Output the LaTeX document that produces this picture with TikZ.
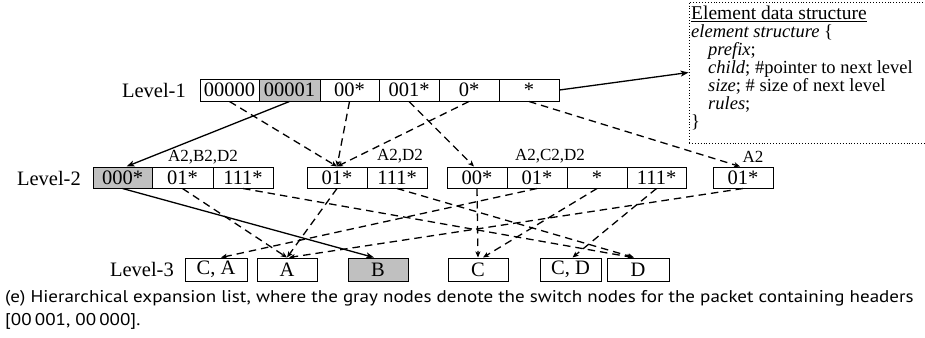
\documentclass[tikz,border=0pt]{standalone}
\usepackage{fontspec}
\setmainfont{Liberation Serif}
\newfontfamily\capfont{PT Sans}
\usetikzlibrary{arrows.meta}
\definecolor{cellgray}{RGB}{192,192,192}
\begin{document}
\begin{tikzpicture}[x=1pt,y=-1pt,
  cell/.style={draw, line width=1pt, inner sep=0pt, anchor=center, font=\fontsize{20.5}{20.5}\selectfont},
  r1/.style={cell, minimum height=22pt},
  r2/.style={cell, minimum height=21pt},
  r3/.style={cell, minimum height=23pt},
  gr/.style={fill=cellgray},
  lvl/.style={anchor=east, inner sep=0pt, font=\fontsize{20.5}{20.5}\selectfont},
  tag/.style={anchor=center, inner sep=0pt, font=\fontsize{17}{17}\selectfont},
  dar/.style={line width=1.3pt, dash pattern=on 7.5pt off 5pt, -{Stealth[length=6pt,width=5pt,inset=1.5pt]}},
  sar/.style={line width=1.3pt, -{Stealth[length=8pt,width=6pt,inset=2pt]}},
  capt/.style={anchor=base west, inner sep=0pt, font=\capfont\fontsize{17}{17}\selectfont}
]
\useasboundingbox (0,0) rectangle (925,337);

% Level 1
\node[lvl] (L1) at (186,90) {Level-1};
\node[r1, minimum width=59pt] (a1) at (229.5,90) {00000};
\node[r1, gr, minimum width=61pt] (a2) at (289.5,90) {00001};
\node[r1, minimum width=59pt] (a3) at (349.5,90) {00*};
\node[r1, minimum width=60pt] (a4) at (409,90) {001*};
\node[r1, minimum width=60pt] (a5) at (469,90) {0*};
\node[r1, minimum width=60pt] (a6) at (529,90) {*};

% Element box
\node[draw, dotted, line width=0.9pt, minimum width=238pt, minimum height=141pt, inner sep=0pt] (box) at (808,72.5) {};
\node[anchor=north west, inner sep=0pt, align=left, font=\fontsize{18.5}{18}\selectfont] (boxtext) at (691,6)
 {{\fontsize{19.5}{18}\selectfont\underline{Element data structure}}\\
  \textit{element structure} \{\\
  \hspace*{17pt}\textit{prefix};\\
  \hspace*{17pt}\textit{child}; \#pointer to next level\\
  \hspace*{17pt}\textit{size}; \# size of next level\\
  \hspace*{17pt}\textit{rules};\\
  \}};

% Level 2
\node[lvl] (L2) at (81,178) {Level-2};
\node[r2, gr, minimum width=59pt] (b1) at (122.5,177.5) {000*};
\node[r2, minimum width=61pt] (b2) at (182.5,177.5) {01*};
\node[r2, minimum width=60pt] (b3) at (243,177.5) {111*};
\node[r2, minimum width=60pt] (b4) at (337,177.5) {01*};
\node[r2, minimum width=60pt] (b5) at (397,177.5) {111*};
\node[r2, minimum width=60pt] (b6) at (477,177.5) {00*};
\node[r2, minimum width=60pt] (b7) at (537,177.5) {01*};
\node[r2, minimum width=60pt] (b8) at (597,177.5) {*};
\node[r2, minimum width=59pt] (b9) at (656.5,177.5) {111*};
\node[r2, minimum width=60pt] (b10) at (743,177.5) {01*};

\node[tag] (t1) at (203,157) {A2,B2,D2};
\node[tag] (t2) at (400,156) {A2,D2};
\node[tag] (t3) at (550,156) {A2,C2,D2};
\node[tag] (t4) at (753,157) {A2};

% Level 3
\node[lvl] (L3) at (174,269) {Level-3};
\node[r3, minimum width=62pt] (c1) at (216,269.5) {C, A};
\node[r3, minimum width=60pt] (c2) at (287,269.5) {A};
\node[r3, gr, minimum width=60pt] (c3) at (378,269.5) {B};
\node[r3, minimum width=60pt] (c4) at (478,269.5) {C};
\node[r3, minimum width=61pt] (c5) at (570.5,269.5) {C, D};
\node[r3, minimum width=62pt] (c6) at (638,269.5) {D};

% Level 1 -> Level 2
\draw[sar] (a6.east) -- (box.west);
\draw[sar] (a2.south) -- ([xshift=4pt]b1.north);
\draw[dar] (a1.south) -- (b4.north);
\draw[dar] (a3.south) -- (b4.north);
\draw[dar] (a5.south) -- (b4.north);
\draw[dar] (a4.south) -- ([xshift=-3pt]b6.north);
\draw[dar] (a6.south) -- ([xshift=-3pt]b10.north);

% Level 2 -> Level 3
\draw[sar] (b1.south) -- ([xshift=-4pt]c3.north);
\draw[dar] (b2.south) -- (c2.north);
\draw[dar] (b4.south) -- (c2.north);
\draw[dar] (b10.south) -- ([xshift=2pt]c2.north);
\draw[dar] (b7.south) -- ([xshift=5pt]c1.north);
\draw[dar] (b6.south) -- (c4.north);
\draw[dar] (b8.south) -- ([xshift=5pt]c4.north);
\draw[dar] (b9.south) -- ([xshift=2pt]c5.north);
\draw[dar] (b3.south) -- ([xshift=-5pt]c6.north);
\draw[dar] (b5.south) -- ([xshift=-4pt]c6.north);

% Caption
\node[capt] (cap1) at (5,302)
 {\scalebox{1.12}[1]{(e) Hierarchical expansion list, where the gray nodes denote the switch nodes for the packet containing headers}};
\node[capt] (cap2) at (5,325)
 {\scalebox{1.12}[1]{[00\,001, 00\,000].}};
\end{tikzpicture}
\end{document}
